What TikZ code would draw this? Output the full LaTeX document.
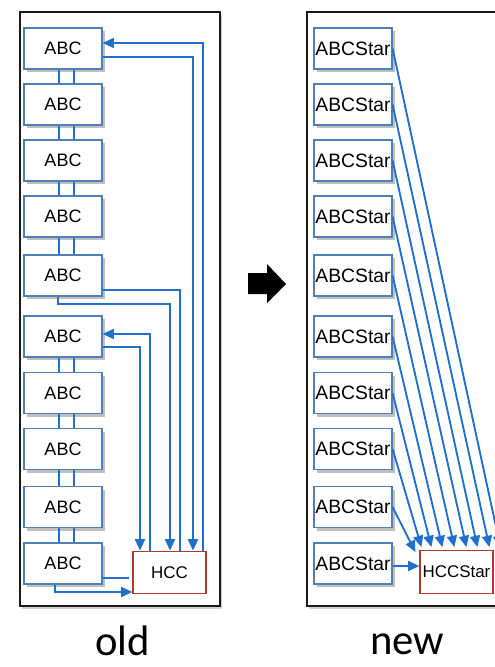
\documentclass[tikz,border=0pt]{standalone}
\usepackage{fontspec}
\setmainfont{Liberation Sans}
\newfontfamily\calib{Carlito}
\usetikzlibrary{calc,shadows,arrows.meta}
\definecolor{boxblue}{HTML}{4F7FB8}
\definecolor{connblue}{HTML}{1F6FCC}
\definecolor{hccred}{HTML}{B0392B}
\begin{document}
\begin{tikzpicture}[x=0.75pt,y=-0.75pt,
  shad/.style={drop shadow={shadow xshift=2pt, shadow yshift=-2.4pt, opacity=0.45, fill=black!55}},
  abc/.style={draw=boxblue, line width=0.9pt, fill=white, minimum width=58.5pt, minimum height=30.75pt, inner sep=0pt, font=\fontsize{13.5}{15}\selectfont, shad},
  abcs/.style={abc, font=\fontsize{14.5}{16}\selectfont},
  hccbox/.style={draw=hccred, line width=0.9pt, fill=white, minimum width=54.75pt, minimum height=32pt, inner sep=0pt, font=\fontsize{12.7}{14}\selectfont},
  frame/.style={draw=black!90, line width=1.5pt, fill=white, drop shadow={shadow xshift=1.5pt, shadow yshift=-2pt, opacity=0.3, fill=black!60}},
  conn/.style={draw=connblue, line width=1.4pt},
  tip/.tip={Triangle[length=8.5pt,width=7.5pt]},
  biglabel/.style={font=\calib\fontsize{32}{36}\selectfont, anchor=base, inner sep=0pt}
]
\useasboundingbox (0,0) rectangle (495,667);
\clip (0,0) rectangle (495,667);

% frames
\path[frame] (20,12) rectangle (220,606);
\path[frame] (307,12) rectangle (560,606);

% column coordinates
\coordinate (c203) at (203,0);
\coordinate (c193) at (193,0);
\coordinate (c180) at (180,0);
\coordinate (c170) at (170,0);
\coordinate (c150) at (150,0);
\coordinate (c140) at (140,0);
\coordinate (c74) at (74,0);
\coordinate (c59) at (59,0);
\coordinate (c58) at (58,0);
\coordinate (c55) at (55,0);

% boxes
\foreach \i/\y in {1/48.5,2/104.5,3/160.5,4/216.5,5/275.5,6/336.5,7/393,8/449,9/507,10/563.5} {
  \node[abc] (a\i) at (63,\y) {ABC};
  \node[abcs] (b\i) at (353,\y) {ABCStar};
}
\node[hccbox] (hcc) at (169.5,572.5) {HCC};
\node[hccbox] (hs) at (456.5,572) {HCCStar};

% old: paired vertical links
\foreach \i/\j in {1/2,2/3,3/4,4/5,6/7,7/8,8/9,9/10} {
  \draw[conn] (a\i.south -| c59) -- (a\j.north -| c59);
  \draw[conn] (a\i.south -| c74) -- (a\j.north -| c74);
}

% old: links to HCC
\draw[conn,-tip] (hcc.north -| c203) |- ($(a1.east)+(0,-5.5)$);
\draw[conn,-tip] ($(a1.east)+(0,8.5)$) -| (hcc.north -| c193);
\draw[conn] ($(a5.east)+(0,14.5)$) -| (hcc.north -| c180);
\draw[conn,-tip] (a5.south -| c58) -- ++(0,7) -| (hcc.north -| c170);
\draw[conn,-tip] (hcc.north -| c150) |- ($(a6.east)+(0,-2.5)$);
\draw[conn,-tip] ($(a6.east)+(0,10.5)$) -| (hcc.north -| c140);
\draw[conn] ($(a10.east)+(0,14.5)$) coordinate (p) -- ($(p -| hcc.west)+(-3,0)$);
\draw[conn,-tip] (a10.south -| c55) |- ($(hcc.west)+(0,19.5)$);

% new: links to HCCStar
\foreach \i/\dx in {1/81,2/70,3/58,4/47,5/35,6/23,7/12,8/2} {
  \draw[conn,-tip] (b\i.east) -- ($(hs.north west)+(\dx,-3)$);
}
\draw[conn,-tip] (b9.east) -- ($(hs.north west)+(-4,2)$);
\draw[conn,-tip] ($(b10.east)+(0,2.5)$) coordinate (q) -- (q -| hs.west);

% big arrow
\fill[black] (248,273) -- (267,273) -- (267,264) -- (286,284) -- (267,303) -- (267,294) -- (248,294) -- cycle;

% labels
\node[biglabel] (old) at (122.5,655) {old};
\node[biglabel] (new) at (407,654) {new};
\end{tikzpicture}
\end{document}
